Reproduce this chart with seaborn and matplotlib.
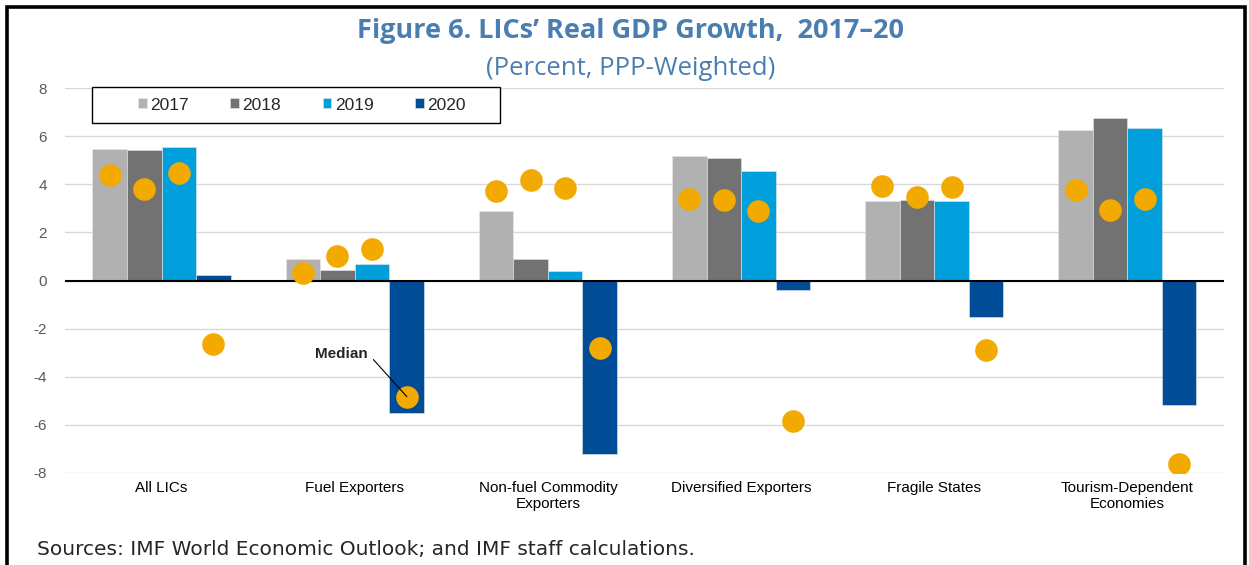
import pandas as pd
import matplotlib.pyplot as plt
import seaborn as sns
from matplotlib.patches import Rectangle

# categories and series
groups = ['All LICs', 'Fuel Exporters', 'Non-fuel Commodity\nExporters',
          'Diversified Exporters', 'Fragile States', 'Tourism-Dependent\nEconomies']
years = ['2017', '2018', '2019', '2020']

g2017 = [5.48, 0.90, 2.89, 5.16, 3.32, 6.25]
g2018 = [5.43, 0.43, 0.88, 5.10, 3.35, 6.74]
g2019 = [5.54, 0.69, 0.40, 4.55, 3.32, 6.33]
g2020 = [0.25, -5.52, -7.20, -0.38, -1.52, -5.17]

m2017 = [4.38, 0.32, 3.72, 3.38, 3.93, 3.76]
m2018 = [3.80, 1.02, 4.20, 3.35, 3.48, 2.95]
m2019 = [4.47, 1.31, 3.83, 2.90, 3.90, 3.40]
m2020 = [-2.65, -4.83, -2.80, -5.86, -2.90, -7.62]

colors = ['#B0B1B0', '#717271', '#009EDB', '#004C97']
dot_color = '#F2A900'
title_color = '#4A7EB1'

growth = [g2017, g2018, g2019, g2020]
medians = [m2017, m2018, m2019, m2020]
rows = []
for yr, gv, mv in zip(years, growth, medians):
    for grp, a, b in zip(groups, gv, mv):
        rows.append({'group': grp, 'year': yr, 'growth': a, 'median': b})
df = pd.DataFrame(rows)

sns.set_style('white')
plt.rcParams['font.family'] = ['Liberation Sans', 'DejaVu Sans']
plt.rcParams['axes.unicode_minus'] = False

fig = plt.figure(figsize=(12.49, 5.65), dpi=100)
ax = fig.add_axes([0.052, 0.163, 0.928, 0.681])

sns.barplot(ax=ax, data=df, x='group', y='growth', hue='year', order=groups,
            hue_order=years, palette=colors, width=0.715, saturation=1,
            errorbar=None, edgecolor='#E8E8E8', linewidth=0.4, zorder=2)

# median dots sit at the centre of each bar
for yr, cont in zip(years, ax.containers):
    sub = df[df['year'] == yr].set_index('group').loc[groups]
    xs = [p.get_x() + p.get_width() / 2 for p in cont.patches]
    ax.scatter(xs, sub['median'], s=265, color=dot_color, zorder=4,
               linewidths=0)

ax.set_ylim(-8, 8)
ax.set_yticks(range(-8, 9, 2))
ax.set_xlim(-0.5, 5.5)
ax.grid(axis='y', color='#D9D9D9', lw=1)
ax.set_axisbelow(True)
ax.axhline(0, color='black', lw=1.5, zorder=3)
for s in ax.spines.values():
    s.set_visible(False)
ax.set_xlabel('')
ax.set_ylabel('')
ax.tick_params(axis='y', labelsize=11, labelcolor='#595959', length=0, pad=13)
ax.tick_params(axis='x', labelsize=11, labelcolor='black', length=0, pad=6)

ax.annotate('Median', xy=(1.27, -4.83), xytext=(1.07, -3.05),
            fontsize=11, fontweight='bold', ha='right', va='center',
            arrowprops=dict(arrowstyle='-', color='black', lw=0.8,
                            shrinkA=2, shrinkB=0, relpos=(1, 0.5)), zorder=5)

# legend box drawn separately so the entries sit centred inside a wide frame
ax.add_patch(Rectangle((0.0233, 0.909), 0.352, 0.0935, transform=ax.transAxes,
                       facecolor='white', edgecolor='black', lw=1.0,
                       clip_on=False, zorder=6))
handles, labels = ax.get_legend_handles_labels()
leg = ax.legend(handles, labels, loc='center', bbox_to_anchor=(0.2045, 0.956),
                ncol=4, frameon=False, fontsize=12.5, handlelength=0.5,
                handleheight=0.5, handletextpad=0.2, columnspacing=2.4,
                borderaxespad=0, borderpad=0)
leg.set_zorder(7)

fig.text(0.505, 0.945, 'Figure 6. LICs\u2019 Real GDP Growth,  2017\u201320',
         ha='center', va='center', fontsize=19.5, fontweight='bold',
         color=title_color, family=['Open Sans', 'DejaVu Sans'])
fig.text(0.505, 0.878, '(Percent, PPP-Weighted)', ha='center', va='center',
         fontsize=18.5, color=title_color, family=['Open Sans', 'DejaVu Sans'])
fig.text(0.03, 0.028, 'Sources: IMF World Economic Outlook; and IMF staff calculations.',
         ha='left', va='center', fontsize=14.5, family=['DejaVu Sans'])

fig.patches.append(Rectangle((0.006, -0.05), 0.991, 1.037, transform=fig.transFigure,
                             fill=False, edgecolor='black', lw=2.6))

plt.savefig('out.png', dpi=100)
